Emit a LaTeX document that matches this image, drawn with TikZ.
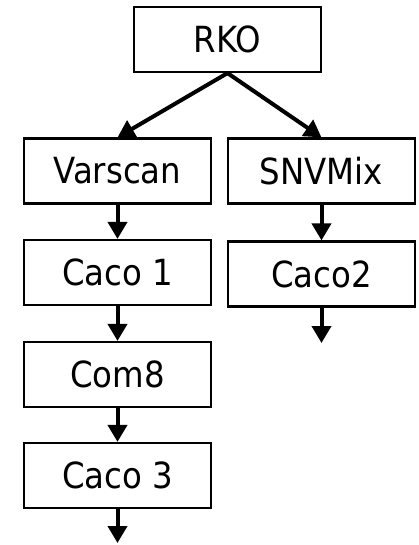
\documentclass[tikz,border=0pt]{standalone}
\usepackage{fontspec}
\setmainfont{DejaVu Sans Condensed}
\usetikzlibrary{arrows.meta}
\begin{document}
\begin{tikzpicture}[x=1pt,y=-1pt,
  stagebox/.style={draw=black, line width=2.2pt, fill=white, minimum width=187pt,
    minimum height=65pt, inner sep=0pt, font=\fontsize{36}{42}\selectfont},
  flow/.style={line width=4pt, -{Triangle[length=17pt,width=19pt]}}]
  \useasboundingbox (0,0) rectangle (419,545);

  % pipeline stages
  \node[stagebox] (rko)     at (227.5,39.5) {RKO};
  \node[stagebox] (varscan) at (117.5,171)  {Varscan};
  \node[stagebox] (snvmix)  at (321.5,171)  {SNVMix};
  \node[stagebox] (caco1)   at (117.5,272.5){Caco 1};
  \node[stagebox] (caco2)   at (321.5,274)  {Caco2};
  \node[stagebox] (com8)    at (117.5,374.5){Com8};
  \node[stagebox] (caco3)   at (117.5,475.5){Caco 3};

  % open ends of the two branches
  \coordinate (endleft)  at (117.5,543);
  \coordinate (endright) at (321.5,343);

  % connectors
  \draw[flow] (rko.south) -- (varscan.north);
  \draw[flow] (rko.south) -- (snvmix.north);
  \draw[flow] (varscan) -- (caco1);
  \draw[flow] (caco1) -- (com8);
  \draw[flow] (com8) -- (caco3);
  \draw[flow] (caco3) -- (endleft);
  \draw[flow] (snvmix) -- (caco2);
  \draw[flow] (caco2) -- (endright);
\end{tikzpicture}
\end{document}
